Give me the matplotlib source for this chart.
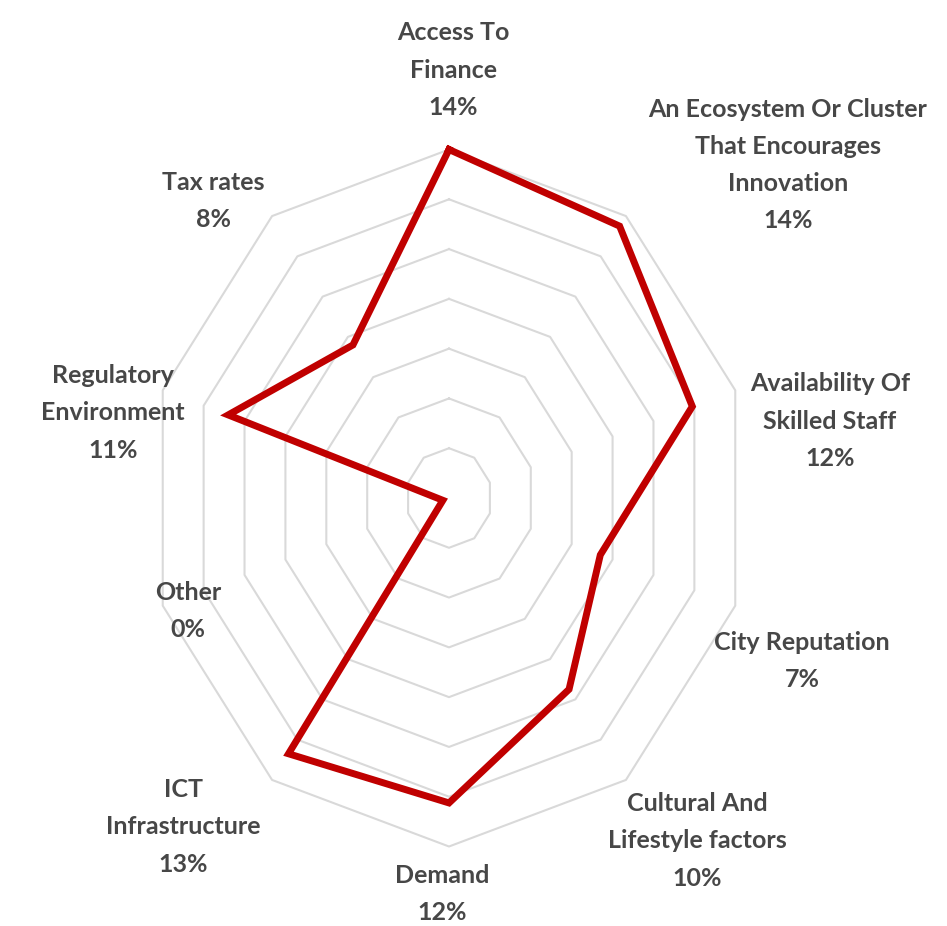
import numpy as np
import matplotlib
matplotlib.use("Agg")
import matplotlib.pyplot as plt

# ---- data ----
categories = [
    "Access To\nFinance",
    "An Ecosystem Or Cluster\nThat Encourages\nInnovation",
    "Availability Of\nSkilled Staff",
    "City Reputation",
    "Cultural And\nLifestyle factors",
    "Demand",
    "ICT\nInfrastructure",
    "Other",
    "Regulatory\nEnvironment",
    "Tax rates",
]
values = [14.0, 13.5, 11.9, 7.4, 9.5, 12.25, 12.7, 0.3, 10.8, 7.6]
pct_labels = ["14%", "14%", "12%", "7%", "10%", "12%", "13%", "0%", "11%", "8%"]
grid_levels = [2, 4, 6, 8, 10, 12, 14]

# ---- layout ----
W, H = 947, 926
cx, cy = 449, 498          # centre in pixels (from top-left)
rx_px, ry_px = 301, 348.5  # pixel radius of max ring horizontally / vertically
rmax = 14.0
sx = rx_px / rmax
sy = ry_px / rmax

label_pos_px = [(453, 70), (788, 165), (830, 421), (802, 661), (697, 841),
                (442, 894), (183, 827), (188, 611), (113, 413), (213, 201)]

fig = plt.figure(figsize=(W / 100, H / 100), dpi=100)
ax = fig.add_axes([0, 0, 1, 1])
ax.set_xlim(-cx / sx, (W - cx) / sx)
ax.set_ylim(-(H - cy) / sy, cy / sy)
ax.axis("off")

n = len(categories)
ang = np.arange(n) * 2 * np.pi / n

for lv in grid_levels:
    gx = lv * np.sin(np.append(ang, ang[0]))
    gy = lv * np.cos(np.append(ang, ang[0]))
    ax.plot(gx, gy, color="#D9D9D9", lw=1.5, zorder=1)

v = np.array(values)
px = v * np.sin(ang)
py = v * np.cos(ang)
ax.plot(np.append(px, px[0]), np.append(py, py[0]), color="#C00000", lw=5,
        solid_joinstyle="miter", zorder=3)

for cat, pct, (lx, ly) in zip(categories, pct_labels, label_pos_px):
    fig.text(lx / W, 1 - ly / H, cat + "\n" + pct, ha="center", va="center",
             fontsize=18, fontweight="bold", family=["Lato", "DejaVu Sans"],
             color="#474747", linespacing=1.75)

fig.savefig("out.png", dpi=100)
